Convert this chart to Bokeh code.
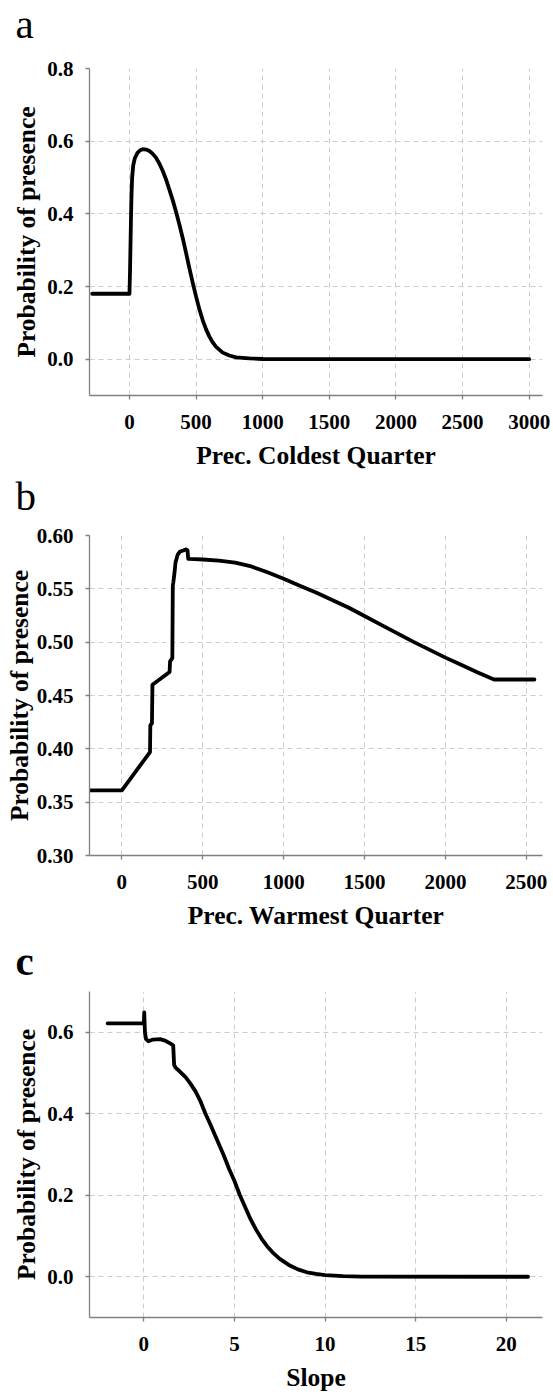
from bokeh.plotting import figure
from bokeh.models import FixedTicker, PrintfTickFormatter, Title, Range1d
from bokeh.layouts import column
from bokeh.embed import file_html
from bokeh.resources import INLINE

# ---------------- data ----------------
a_x = [-280, 0, 4, 8, 12, 16, 20, 28, 40, 60, 80, 100, 125, 150, 175, 200, 225, 250, 275,
       300, 325, 350, 375, 400, 425, 450, 475, 500, 525, 550, 575, 600, 625, 650, 700,
       750, 800, 900, 1000, 1200, 3000]
a_y = [0.18, 0.18, 0.24, 0.32, 0.40, 0.46, 0.50, 0.533, 0.553, 0.568, 0.575, 0.578, 0.577,
       0.573, 0.565, 0.554, 0.538, 0.518, 0.494, 0.466, 0.437, 0.405, 0.37, 0.333, 0.292,
       0.25, 0.21, 0.172, 0.137, 0.107, 0.082, 0.062, 0.046, 0.034, 0.018, 0.010, 0.005,
       0.002, 0.0005, 0.0, 0.0]

b_x = [-200, 0, 174, 176, 186, 189, 295, 298, 312, 315, 318, 326, 332, 345, 360, 380, 398,
       406, 410, 450, 500, 600, 700, 800, 900, 1000, 1100, 1200, 1300, 1400, 1500, 1600,
       1700, 1800, 1900, 2000, 2100, 2200, 2300, 2550]
b_y = [0.361, 0.361, 0.397, 0.422, 0.424, 0.460, 0.472, 0.482, 0.485, 0.553, 0.556, 0.566,
       0.575, 0.582, 0.585, 0.586, 0.587, 0.586, 0.578, 0.5778, 0.5775, 0.5765, 0.5745,
       0.571, 0.5655, 0.5595, 0.553, 0.5465, 0.5395, 0.5325, 0.5245, 0.5165, 0.5085,
       0.5005, 0.493, 0.4855, 0.4785, 0.4715, 0.465, 0.465]

c_x = [-2, 0, 0.02, 0.06, 0.12, 0.25, 0.5, 0.9, 1.2, 1.47, 1.62, 1.67, 1.75, 2.0, 2.3, 2.57,
       2.85, 3.1, 3.4, 3.66, 4.0, 4.39, 4.7, 5.0, 5.3, 5.6, 5.9, 6.2, 6.5, 6.8, 7.1, 7.5,
       8.0, 8.5, 9.0, 9.5, 10.0, 11.0, 12.0, 21.2]
c_y = [0.622, 0.622, 0.649, 0.60, 0.583, 0.578, 0.582, 0.583, 0.579, 0.572, 0.568, 0.52,
       0.513, 0.503, 0.49, 0.474, 0.455, 0.433, 0.40, 0.375, 0.34, 0.30, 0.265, 0.235,
       0.20, 0.17, 0.14, 0.115, 0.093, 0.075, 0.06, 0.044, 0.029, 0.018, 0.011, 0.007,
       0.004, 0.0015, 0.0005, 0.0]

a_xticks = [0, 500, 1000, 1500, 2000, 2500, 3000]
a_yticks = [0.0, 0.2, 0.4, 0.6, 0.8]
b_xticks = [0, 500, 1000, 1500, 2000, 2500]
b_yticks = [0.30, 0.35, 0.40, 0.45, 0.50, 0.55, 0.60]
c_xticks = [0, 5, 10, 15, 20]
c_yticks = [0.0, 0.2, 0.4, 0.6]

y_title = "Probability of presence"
a_title = "Prec. Coldest Quarter"
b_title = "Prec. Warmest Quarter"
c_title = "Slope"

FONT = "Liberation Serif"
AXIS_COL = "#808080"
GRID_COL = "#cccccc"
W = 553
LEFT = 89
RIGHT = 11


def panel(xs, ys, xr, yr, xticks, yticks, yfmt, xtitle, letter, letter_style,
          top, frame_h, bottom, ytstand, spacer, letter_standoff):
    height = top + frame_h + bottom
    p = figure(width=W, height=height, x_range=Range1d(*xr), y_range=Range1d(*yr),
               output_backend="svg", toolbar_location=None,
               min_border_left=LEFT, min_border_right=RIGHT,
               min_border_top=top, min_border_bottom=bottom)
    p.outline_line_color = None

    # empty spacer between frame and the panel letter, then the letter itself
    p.add_layout(Title(text=" ", text_font_size="1px", standoff=spacer), "above")
    p.add_layout(Title(text=letter, align="left", offset=15 - LEFT, standoff=letter_standoff,
                       text_font=FONT, text_font_size="41px", text_font_style=letter_style,
                       text_color="black"), "above")

    p.xaxis.ticker = FixedTicker(ticks=xticks)
    p.yaxis.ticker = FixedTicker(ticks=yticks)
    p.xgrid.ticker = FixedTicker(ticks=xticks)
    p.ygrid.ticker = FixedTicker(ticks=yticks)
    p.yaxis.formatter = PrintfTickFormatter(format=yfmt)

    for g in (p.xgrid, p.ygrid):
        g.grid_line_color = GRID_COL
        g.grid_line_dash = "5 4"
        g.grid_line_width = 1

    for ax in (p.xaxis, p.yaxis):
        ax.axis_line_color = AXIS_COL
        ax.axis_line_width = 1.3
        ax.major_tick_line_color = AXIS_COL
        ax.major_tick_line_width = 1.3
        ax.major_tick_out = 4
        ax.major_tick_in = 0
        ax.minor_tick_line_color = None
        ax.major_label_text_font = FONT
        ax.major_label_text_font_style = "bold"
        ax.major_label_text_font_size = "21px"
        ax.major_label_text_color = "black"
        ax.axis_label_text_font = FONT
        ax.axis_label_text_font_style = "bold"
        ax.axis_label_text_font_size = "25.5px"
        ax.axis_label_text_color = "black"

    p.xaxis.axis_label = xtitle
    p.yaxis.axis_label = y_title
    p.xaxis.major_label_standoff = 15
    p.xaxis.axis_label_standoff = 9
    p.yaxis.major_label_standoff = 12
    p.yaxis.axis_label_standoff = ytstand

    p.line(xs, ys, line_width=3.8, line_color="black", line_join="round", line_cap="round")
    return p


pa = panel(a_x, a_y, (-300, 3100), (-0.1, 0.8), a_xticks, a_yticks, "%.1f", a_title,
           "a", "normal", 68, 328, 76, 3, 24, -10)
pb = panel(b_x, b_y, (-200, 2600), (0.30, 0.60), b_xticks, b_yticks, "%.2f", b_title,
           "b", "normal", 63, 320, 78, 0, 17, -6)
pc = panel(c_x, c_y, (-3, 22), (-0.1, 0.7), c_xticks, c_yticks, "%.1f", c_title,
           "c", "bold", 58, 326, 78, 3, 7, -4)

layout = column(pa, pb, pc, spacing=0)

open("out.html", "w").write(file_html(layout, INLINE))
